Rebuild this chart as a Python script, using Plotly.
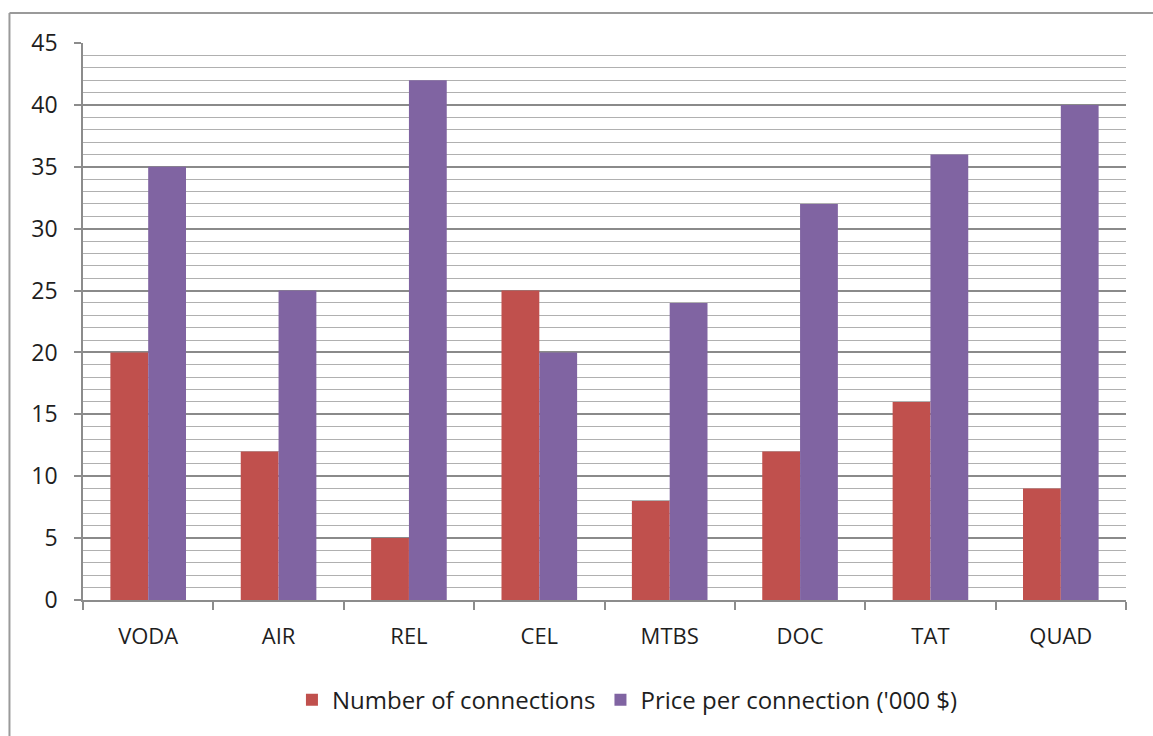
import plotly.graph_objects as go

categories = ["VODA", "AIR", "REL", "CEL", "MTBS", "DOC", "TAT", "QUAD"]
connections = [20, 12, 5, 25, 8, 12, 16, 9]
price = [35, 25, 42, 20, 24, 32, 36, 40]
y_ticks = [0, 5, 10, 15, 20, 25, 30, 35, 40, 45]

fig = go.Figure()
fig.add_trace(go.Bar(x=categories, y=connections, name="Number of connections",
                     marker=dict(color="#C0504D", line=dict(width=0))))
fig.add_trace(go.Bar(x=categories, y=price, name="Price per connection ('000 $)",
                     marker=dict(color="#8064A2", line=dict(width=0))))

font_family = "Open Sans, Liberation Sans, sans-serif"

fig.update_layout(
    width=1153, height=736,
    margin=dict(l=83, r=27, t=43, b=136),
    paper_bgcolor="white", plot_bgcolor="white",
    barmode="group", bargap=0.42, bargroupgap=0,
    font=dict(family=font_family, size=22, color="#1e1e1e"),
    showlegend=True,
    legend=dict(orientation="h", x=0.522, xanchor="center", y=-0.18, yanchor="middle",
                font=dict(size=24, color="#1e1e1e"), itemwidth=30,
                traceorder="normal", bgcolor="rgba(0,0,0,0)"),
    xaxis=dict(
        type="category", showline=True, linecolor="#8c8c8c", linewidth=1.5,
        ticks="outside", tickson="boundaries", ticklen=8, tickcolor="#8c8c8c", tickwidth=1.5,
        showgrid=False, tickfont=dict(size=22, color="#1e1e1e"), ticklabelstandoff=16,
    ),
    yaxis=dict(
        range=[0, 45], tickvals=y_ticks, showline=True, linecolor="#8c8c8c", linewidth=1.5,
        ticks="outside", ticklen=7, tickcolor="#8c8c8c", tickwidth=1.5,
        showgrid=True, gridcolor="#8a8a8a", gridwidth=1.5,
        minor=dict(dtick=1, showgrid=True, gridcolor="#b0b0b0", gridwidth=1.2),
        tickfont=dict(size=23, color="#1e1e1e"), ticklabelstandoff=12,
        zeroline=False,
    ),
)

# outer chart border (top and left visible)
fig.add_shape(type="line", xref="paper", yref="paper", x0=-0.0705, x1=1.1, y0=1.0539, y1=1.0539,
              line=dict(color="#9a9a9a", width=2))
fig.add_shape(type="line", xref="paper", yref="paper", x0=-0.0705, x1=-0.0705, y0=1.0539, y1=-0.3,
              line=dict(color="#9a9a9a", width=2))

fig.write_html("out.html")
